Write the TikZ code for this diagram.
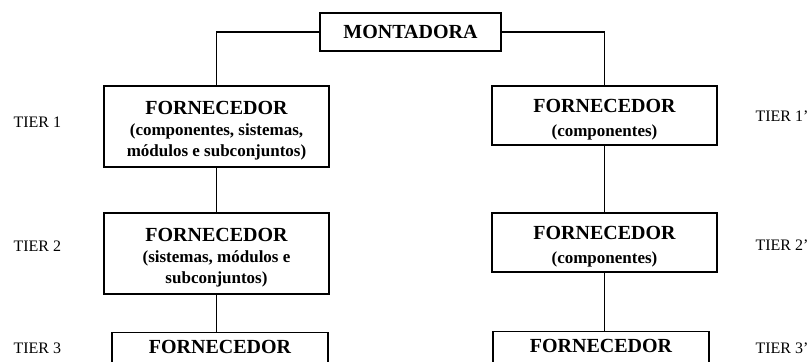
\documentclass[tikz,border=0pt]{standalone}
\usepackage{fontspec}
\setmainfont{Liberation Serif}
\usetikzlibrary{positioning}

\newcommand{\forn}{{\fontsize{10}{12}\selectfont\rule{0pt}{11pt}FORNECEDOR}}

\begin{document}
\begin{tikzpicture}%
    [x=0.5pt, y=-0.5pt,
    line width=0.55pt,
    every node/.style={inner sep=0pt},
    firm/.style={draw, fill=white, align=center, font=\bfseries\fontsize{8.5}{10.5}\selectfont},
    tall/.style={firm, minimum width=112.5pt, minimum height=40.5pt},
    short/.style={firm, minimum width=112.5pt, minimum height=29.5pt},
    open/.style={firm, minimum width=108pt, anchor=north, text height=7pt, text depth=40pt, inner ysep=3.5pt},
    tier/.style={anchor=base west, font=\fontsize{8}{10}\selectfont}
    ]
    \clip (0,0) rectangle (809,362);
    \fill[white] (0,0) rectangle (809,362);

    \node[firm, minimum width=90.5pt, minimum height=19pt] (mont) at (410.5,32)
        {\fontsize{10}{12}\selectfont MONTADORA};

    % left chain
    \node[tall]  (t1L) at (216.5,126.5) {\forn\\(componentes, sistemas,\\módulos e subconjuntos)};
    \node[tall]  (t2L) at (216.5,253.5) {\forn\\(sistemas, módulos e\\subconjuntos)};
    \node[open]  (t3L) at (220,332)     {\forn};

    % right chain
    \node[short] (t1R) at (604.5,115.5) {\forn\\[1.5pt](componentes)};
    \node[short] (t2R) at (604.5,242.5) {\forn\\[1.5pt](componentes)};
    \node[open]  (t3R) at (601,331)     {\forn};

    % tiers
    \node[tier] (lab1)  at (13,128)  {TIER 1};
    \node[tier] (lab2)  at (13,252)  {TIER 2};
    \node[tier] (lab3)  at (13,354)  {TIER 3};
    \node[tier] (lab1r) at (755,122) {TIER 1'};
    \node[tier] (lab2r) at (755,251) {TIER 2'};
    \node[tier] (lab3r) at (755,354) {TIER 3'};

    \draw (mont.west) -| (t1L.north);
    \draw (mont.east) -| (t1R.north);

    \path[draw]
    % FROM        TO
    (t1L.south) edge (t1L.south |- t2L.north)
    (t2L.south) edge (t2L.south |- t3L.north)
    (t1R.south) edge (t1R.south |- t2R.north)
    (t2R.south) edge (t2R.south |- t3R.north)
    ;
\end{tikzpicture}
\end{document}
